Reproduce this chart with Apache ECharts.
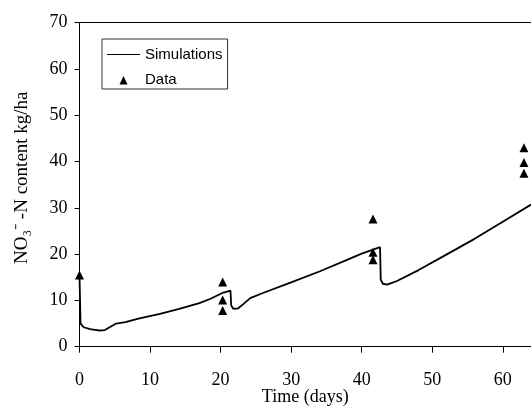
<!DOCTYPE html>
<html>
<head>
<meta charset="utf-8">
<script src="https://cdn.jsdelivr.net/npm/echarts@6/dist/echarts.min.js"></script>
<style>
  html, body { margin: 0; padding: 0; background: #fff; }
  #chart { width: 531px; height: 407px; }
</style>
</head>
<body>
<div id="chart"></div>
<script>
// Simulated NO3-N content (day, kg/ha)
const simDays = [0, 0.15, 0.6, 1.5, 2.8, 3.6, 5.2, 6.5, 8.5, 11.4, 14, 17, 18.5, 20.4, 21.4,
  21.5, 21.8, 22.5, 23.3, 24.2, 26, 30, 34.1, 38, 40, 42.6,
  42.7, 43.0, 43.6, 45, 48, 52, 56, 60, 64];
const simValues = [15.3, 5.0, 4.2, 3.8, 3.5, 3.6, 5.0, 5.3, 6.1, 7.1, 8.1, 9.4, 10.3, 11.7, 12.1,
  8.9, 8.2, 8.3, 9.3, 10.5, 11.6, 13.9, 16.3, 18.8, 20.1, 21.5,
  14.5, 13.6, 13.4, 14.2, 16.5, 19.9, 23.3, 27.0, 30.7];

// Measured data (day, kg/ha)
const obsDays = [0, 20.3, 20.3, 20.3, 41.6, 41.6, 41.6, 63, 63, 63];
const obsValues = [15.5, 14.0, 10.1, 7.8, 27.6, 20.4, 18.8, 43.0, 39.8, 37.5];

const xTicks = [0, 10, 20, 30, 40, 50, 60];

const myChart = echarts.init(document.getElementById('chart'));

const serif = 'Liberation Serif';

let option = {
    animation: false,
    backgroundColor: '#fff',
    textStyle: {fontFamily: serif, color: '#000'},
    grid: {
        left: 79.5,
        right: 0,
        top: 22.7,
        bottom: 60.3,
        outerBoundsMode: 'none',
        containLabel: false
    },
    legend: {
        orient: 'vertical',
        left: 102,
        top: 39,
        padding: [8, 5, 2, 5],
        itemGap: 10,
        itemWidth: 33,
        itemHeight: 10,
        borderColor: '#333',
        borderWidth: 1,
        borderRadius: 0,
        backgroundColor: '#fff',
        textStyle: {
            fontFamily: 'Liberation Sans',
            fontSize: 15,
            color: '#000'
        },
        data: [
            {name: 'Simulations', icon: 'path://M0,0M33,10M0,4.5L33,4.5L33,5.5L0,5.5Z'},
            {name: 'Data', icon: 'path://M0,0M33,10M12.5,10L16.5,1.5L20.5,10Z'}
        ]
    },
    xAxis: [
        {
            type: 'value',
            min: 0,
            max: 64,
            name: 'Time (days)',
            nameLocation: 'middle',
            nameGap: 42,
            nameMoveOverlap: false,
            nameTextStyle: {fontFamily: serif, fontSize: 18, color: '#000'},
            axisLine: {lineStyle: {color: '#000', width: 1}},
            axisTick: {
                show: true,
                customValues: xTicks,
                length: 6,
                lineStyle: {color: '#000'}
            },
            axisLabel: {
                customValues: xTicks,
                margin: 25,
                fontFamily: serif,
                fontSize: 18,
                color: '#000'
            },
            splitLine: {show: false}
        },
        {
            // linea superior del marco
            type: 'value',
            position: 'top',
            min: 0,
            max: 64,
            axisLine: {show: true, lineStyle: {color: '#000', width: 1}},
            axisTick: {show: false},
            axisLabel: {show: false},
            splitLine: {show: false}
        }
    ],
    yAxis: {
        type: 'value',
        min: 0,
        max: 70,
        interval: 10,
        name: 'NO\u2083\u207B -N content kg/ha',
        nameLocation: 'middle',
        nameGap: 48,
        nameMoveOverlap: false,
        nameTextStyle: {fontFamily: serif, fontSize: 19, color: '#000', padding: [0, 0, 0, 14]},
        axisLine: {show: true, lineStyle: {color: '#000', width: 1}},
        axisTick: {show: true, length: 5, lineStyle: {color: '#000'}},
        axisLabel: {
            margin: 12,
            fontFamily: serif,
            fontSize: 18,
            color: '#000'
        },
        splitLine: {show: false}
    },
    series: [
        {
            name: 'Simulations',
            type: 'line',
            symbol: 'none',
            data: simDays.map((d, i) => [d, simValues[i]]),
            lineStyle: {color: '#000', width: 1.8},
            itemStyle: {color: '#000'},
            z: 2
        },
        {
            name: 'Data',
            type: 'scatter',
            symbol: 'triangle',
            symbolSize: [9, 9],
            data: obsDays.map((d, i) => [d, obsValues[i]]),
            itemStyle: {color: '#000', opacity: 1},
            z: 3
        }
    ]
};

myChart.setOption(option);
</script>
</body>
</html>
